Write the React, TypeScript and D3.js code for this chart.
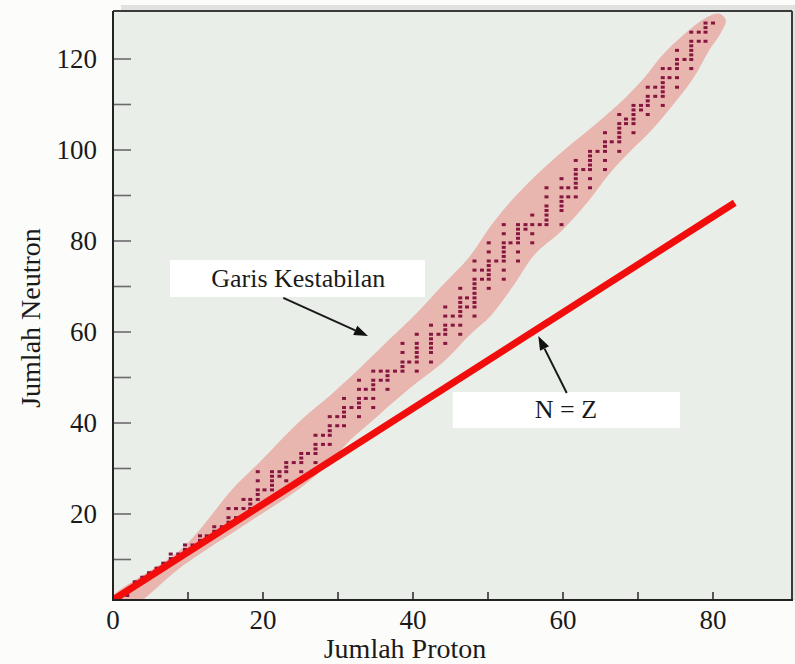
import React from "react";
import * as d3 from "d3";

const W = 795;
const H = 664;
const FRAME = { left: 113, right: 792, top: 11, bottom: 600 };

const xTicksMajor = [0, 20, 40, 60, 80];
const xTicksMinor = [10, 30, 50, 70];
const yTickLabels = [20, 40, 60, 80, 100, 120];
const yTicksMinor = [10, 30, 50, 70, 90, 110];

// stable nuclides: one column per proton number (axis units)
const nuclideX = [
  0.96, 1.9, 2.9, 3.9, 4.8, 5.8, 6.7, 7.7, 8.7, 9.6, 10.6, 11.6, 12.5, 13.5, 14.5, 15.4, 16.4, 17.4, 18.3, 19.3,
  20.2, 21.2, 22.2, 23.1, 24.1, 25.1, 26.0, 27.0, 28.0, 28.9, 29.9, 30.8, 31.8, 32.8, 33.7, 34.7, 35.7, 36.6, 37.6, 38.6,
  39.5, 40.5, 42.4, 43.4, 44.3, 45.3, 46.3, 47.2, 48.2, 49.2, 50.1, 51.1, 52.1, 53.0, 54.0, 55.0, 55.9, 56.9, 57.8,
  59.8, 60.7, 61.7, 62.7, 63.6, 64.6, 65.6, 66.5, 67.5, 68.4, 69.4, 70.4, 71.3, 72.3, 73.3, 74.2, 75.2, 76.2, 77.1,
  78.1, 79.0, 80.0,
];
const nuclideY = [
  [1.1, 2.1], [2.1, 3.1], [4.1, 5.1], [6.1], [6.1, 7.1], [7.1, 8.1], [8.1, 9.2], [9.2, 10.2, 11.2], [11.2],
  [11.2, 12.2, 13.2], [13.2], [13.2, 14.2, 15.2], [15.2], [15.2, 16.2, 17.2], [17.2], [17.2, 18.2, 19.2, 21.2],
  [19.2, 21.2], [19.2, 21.2, 23.2], [21.2, 22.2, 23.2], [21.2, 23.2, 24.3, 25.3, 27.3, 29.3],
  [25.3], [25.3, 26.3, 27.3, 28.3, 29.3], [28.3, 29.3], [27.3, 29.3, 30.3, 31.3], [31.3], [29.3, 31.3, 32.3, 33.3],
  [33.3], [31.3, 33.3, 34.3, 35.3, 37.3], [35.3, 37.3], [35.3, 37.3, 38.3, 39.4, 41.4], [39.4, 41.4],
  [39.4, 41.4, 42.4, 43.4, 45.4], [43.4], [41.4, 43.4, 44.4, 45.4, 47.4, 49.4], [45.4, 47.4],
  [43.4, 45.4, 47.4, 48.4, 49.4, 51.4], [49.4, 51.4], [47.4, 49.4, 50.4, 51.4], [51.4],
  [51.4, 52.4, 53.4, 55.5, 57.5], [53.4], [51.4, 53.4, 54.5, 55.5, 56.5, 57.5, 59.5],
  [53.4, 55.5, 56.5, 57.5, 58.5, 59.5, 61.5], [59.5], [57.5, 59.5, 60.5, 61.5, 63.5, 65.5], [61.5, 63.5],
  [59.5, 61.5, 63.5, 64.5, 65.5, 66.5, 67.5, 69.6], [65.5, 67.5],
  [63.5, 65.5, 66.5, 67.5, 68.5, 69.6, 70.6, 71.6, 73.6, 75.6], [71.6, 73.6],
  [69.6, 71.6, 72.6, 73.6, 74.6, 75.6, 77.6, 79.6], [75.6],
  [71.6, 73.6, 75.6, 76.6, 77.6, 78.6, 79.6, 81.6, 83.6], [79.6],
  [75.6, 77.6, 79.6, 80.6, 81.6, 82.6, 83.6], [82.6, 83.6], [79.6, 81.6, 83.6, 85.7], [83.6],
  [83.6, 84.6, 85.7, 86.7, 87.7, 89.7, 91.7],
  [83.6, 86.7, 87.7, 88.7, 89.7, 91.7, 93.7], [89.7, 91.7], [89.7, 91.7, 92.7, 93.7, 94.7, 95.7, 97.7], [95.7],
  [91.7, 93.7, 95.7, 96.7, 97.7, 98.7, 99.7], [99.7], [95.7, 97.7, 99.7, 100.8, 101.8, 103.8], [101.8],
  [99.7, 101.8, 102.8, 103.8, 104.8, 105.8, 107.8], [105.8, 106.8], [103.8, 105.8, 106.8, 107.8, 108.8, 109.8],
  [108.8, 109.8], [107.8, 109.8, 110.8, 111.8, 113.8], [111.8, 113.8],
  [109.8, 111.8, 112.8, 113.8, 114.8, 115.9, 117.9], [115.9, 117.9], [113.8, 115.9, 117.9, 118.9, 119.9, 121.9],
  [119.9], [117.9, 119.9, 120.9, 121.9, 122.9, 123.9, 125.9], [123.9, 125.9], [123.9, 125.9, 126.9, 127.9],
  [127.9],
];

// shaded "stability band" outline (axis units)
const bandUpper: [number, number][] = [
  [-0.5, 1.2], [9.3, 12.6], [16.0, 25.6], [19.5, 31.3], [24.9, 40.4], [28.9, 46.0], [33.0, 52.2], [37.0, 58.6],
  [40.5, 64.2], [44.0, 70.4], [47.5, 76.5], [50.5, 83.6], [53.2, 89.0], [56.0, 93.8], [60.0, 99.8],
  [64.5, 105.9], [68.0, 111.0], [70.8, 115.8], [73.0, 120.4], [76.0, 125.2], [78.8, 128.8], [80.7, 130.0],
  [81.7, 128.6],
];
const bandLower: [number, number][] = [
  [81.0, 125.6], [79.6, 122.2], [77.3, 115.6], [74.3, 109.2], [71.6, 104.0], [68.9, 99.6], [66.5, 95.4],
  [63.0, 88.0], [59.8, 82.2], [56.2, 77.0], [53.4, 70.2], [50.4, 63.6], [47.6, 59.4], [44.3, 53.8],
  [39.4, 47.4], [35.2, 41.4], [31.6, 36.2], [28.9, 31.3], [24.9, 25.6], [18.3, 18.4], [9.3, 8.6],
  [2.3, -0.5], [-0.5, -0.5],
];

// N = Z line
const nzLine: [number, number][] = [[0, 1.1], [82.9, 88.4]];

// annotations (axis units)
const label1 = { text: "Garis Kestabilan", x0: 7.6, x1: 41.6, yTop: 75.8, yBot: 67.7, tx: 24.7, ty: 69.9 };
const arrow1 = { from: [22.7, 67.5], to: [34.0, 59.1] };
const label2 = { text: "N = Z", x0: 45.3, x1: 75.6, yTop: 46.8, yBot: 38.9, tx: 60.4, ty: 41.1 };
const arrow2 = { from: [60.5, 46.6], to: [56.7, 59.1] };

const SERIF = "'Liberation Serif', 'Times New Roman', Times, serif";

export default function App() {
  const x = d3.scaleLinear().domain([0, (FRAME.right - FRAME.left) / 7.5]).range([FRAME.left, FRAME.right]);
  const yMin = (605 - FRAME.bottom) / 4.55;
  const yMax = yMin + (FRAME.bottom - FRAME.top) / 4.55;
  const y = d3.scaleLinear().domain([yMin, yMax]).range([FRAME.bottom, FRAME.top]);

  const bandPath = d3
    .line<[number, number]>()
    .x((d) => x(d[0]))
    .y((d) => y(d[1]))
    .curve(d3.curveCatmullRomClosed.alpha(0.5))([...bandUpper, ...bandLower]) as string;

  const nzPath = d3
    .line<[number, number]>()
    .x((d) => x(d[0]))
    .y((d) => y(d[1]))(nzLine) as string;

  const dots: { cx: number; cy: number }[] = [];
  nuclideX.forEach((zx, i) => {
    (nuclideY[i] || []).forEach((ny) => dots.push({ cx: x(zx), cy: y(ny) }));
  });

  const arrowLine = (a: { from: number[]; to: number[] }) => {
    const x1 = x(a.from[0]), y1 = y(a.from[1]), x2 = x(a.to[0]), y2 = y(a.to[1]);
    const ang = Math.atan2(y2 - y1, x2 - x1);
    const L = 14, Wd = 5;
    const bx = x2 - L * Math.cos(ang), by = y2 - L * Math.sin(ang);
    const px = -Math.sin(ang) * Wd, py = Math.cos(ang) * Wd;
    return (
      <g>
        <line x1={x1} y1={y1} x2={bx} y2={by} stroke="#1a1a1a" strokeWidth={2} />
        <path d={`M${x2},${y2}L${bx + px},${by + py}L${bx - px},${by - py}Z`} fill="#111" />
      </g>
    );
  };

  return (
    <svg
      width={W}
      height={H}
      style={{ position: "absolute", left: 0, top: 0, display: "block" }}
      xmlns="http://www.w3.org/2000/svg"
    >
      <defs>
        <clipPath id="plotClip">
          <rect x={FRAME.left} y={FRAME.top} width={FRAME.right - FRAME.left} height={FRAME.bottom - FRAME.top} />
        </clipPath>
      </defs>
      <rect x={0} y={0} width={W} height={H} fill="#fcfdfb" />
      {/* frame shadow */}
      <rect x={FRAME.left + 8} y={FRAME.top - 6} width={W - FRAME.left - 8} height={FRAME.bottom - FRAME.top + 6} fill="#dfe2df" />
      <rect
        x={FRAME.left}
        y={FRAME.top}
        width={FRAME.right - FRAME.left}
        height={FRAME.bottom - FRAME.top}
        fill="#e9eee9"
      />

      <g clipPath="url(#plotClip)">
        <path d={bandPath} fill="#e8b6ae" />
        {dots.map((d, i) => (
          <rect key={i} x={d.cx - 2} y={d.cy - 1.5} width={4} height={3} fill="#861640" />
        ))}
        <path d={nzPath} stroke="#f20d0d" strokeWidth={7} fill="none" />
      </g>

      {/* annotation boxes */}
      <rect
        x={x(label1.x0)}
        y={y(label1.yTop)}
        width={x(label1.x1) - x(label1.x0)}
        height={y(label1.yBot) - y(label1.yTop)}
        fill="#ffffff"
      />
      <text x={x(label1.tx)} y={y(label1.ty)} textAnchor="middle" fontFamily={SERIF} fontSize={26} fill="#1a1a1a">
        {label1.text}
      </text>
      {arrowLine(arrow1)}

      <rect
        x={x(label2.x0)}
        y={y(label2.yTop)}
        width={x(label2.x1) - x(label2.x0)}
        height={y(label2.yBot) - y(label2.yTop)}
        fill="#ffffff"
      />
      <text x={x(label2.tx)} y={y(label2.ty)} textAnchor="middle" fontFamily={SERIF} fontSize={26} fill="#1a1a1a">
        {label2.text}
      </text>
      {arrowLine(arrow2)}

      {/* frame borders */}
      <line x1={FRAME.left} y1={FRAME.top} x2={FRAME.right} y2={FRAME.top} stroke="#3a3a3a" strokeWidth={2} />
      <line x1={FRAME.right} y1={FRAME.top} x2={FRAME.right} y2={FRAME.bottom} stroke="#3a3a3a" strokeWidth={2} />

      {/* y ticks */}
      {[...yTickLabels, ...yTicksMinor].map((t) => (
        <line key={"yt" + t} x1={FRAME.left} x2={FRAME.left + 18} y1={y(t)} y2={y(t)} stroke="#6a6a6a" strokeWidth={1.6} />
      ))}
      {yTickLabels.map((t) => (
        <text
          key={"yl" + t}
          x={FRAME.left - 16}
          y={y(t)}
          dy="0.35em"
          textAnchor="end"
          fontFamily={SERIF}
          fontSize={27}
          fill="#1a1a1a"
        >
          {t}
        </text>
      ))}

      {/* x ticks */}
      {[...xTicksMajor.filter((t) => t > 0), ...xTicksMinor].map((t) => (
        <line key={"xt" + t} x1={x(t)} x2={x(t)} y1={FRAME.bottom} y2={FRAME.bottom - 8} stroke="#333" strokeWidth={1.6} />
      ))}
      {xTicksMajor.map((t) => (
        <text
          key={"xl" + t}
          x={x(t)}
          y={FRAME.bottom + 29}
          textAnchor="middle"
          fontFamily={SERIF}
          fontSize={27}
          fill="#1a1a1a"
        >
          {t}
        </text>
      ))}

      {/* axes */}
      <line x1={FRAME.left} y1={FRAME.top} x2={FRAME.left} y2={FRAME.bottom + 1} stroke="#222" strokeWidth={2} />
      <line x1={FRAME.left - 1} y1={FRAME.bottom} x2={FRAME.right + 1} y2={FRAME.bottom} stroke="#222" strokeWidth={2.2} />

      {/* axis titles */}
      <text x={405} y={658} textAnchor="middle" fontFamily={SERIF} fontSize={28} fill="#1a1a1a">
        Jumlah Proton
      </text>
      <text
        transform={`translate(40, 318) rotate(-90)`}
        textAnchor="middle"
        fontFamily={SERIF}
        fontSize={28}
        fill="#1a1a1a"
      >
        Jumlah Neutron
      </text>
    </svg>
  );
}
